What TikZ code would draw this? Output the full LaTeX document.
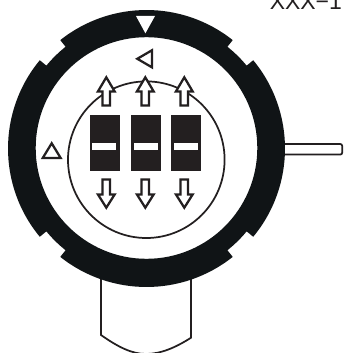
\documentclass[tikz,border=0pt]{standalone}
\usepackage{fontspec}
\usetikzlibrary{calc}
\setmainfont{Liberation Sans}
\definecolor{ringc}{HTML}{101416}
\definecolor{darkc}{HTML}{231F20}
\tikzset{
  outl/.style={draw=darkc,line width=1.7pt,fill=white,line join=miter},
  thinl/.style={draw=darkc,line width=1.3pt},
  slot/.style={fill=darkc,draw=none},
  bar/.style={fill=white,draw=none}
}
\newcommand{\uparr}[1]{\draw[outl] (#1,77.3)--(#1+8.4,91.5)--(#1+3.7,91.5)--(#1+3.7,105.5)--(#1-3.7,105.5)--(#1-3.7,91.5)--(#1-8.4,91.5)--cycle;}
\newcommand{\dnarr}[1]{\draw[outl] (#1,207.7)--(#1+8.4,194.4)--(#1+3.7,194.4)--(#1+3.7,179.5)--(#1-3.7,179.5)--(#1-3.7,194.4)--(#1-8.4,194.4)--cycle;}
\begin{document}
\begin{tikzpicture}[x=0.75pt,y=-0.75pt]
\useasboundingbox (0,0) rectangle (343,353);
\clip (0,0) rectangle (343,353);
\fill[white] (0,0) rectangle (343,353);
% bottom tab
\draw[thinl] (101,275)--(101,335) .. controls (118,347) and (132,354) .. (146,354) .. controls (160,354) and (175,348) .. (191,337.7)--(191,275);
% right stem
\draw[thinl,fill=white,rounded corners=1.5pt] (280,144)--(342.2,144)--(342.2,154.6)--(280,154.6);
% ring
\fill[ringc,even odd rule]
  ($(146.5,148.5)+(-39.6:138.5)$) arc[start angle=-39.6,end angle=39.6,radius=138.5]
  -- ($(146.5,148.5)+(39.6:130)$) arc[start angle=39.6,end angle=51.5,radius=130]
  -- ($(146.5,148.5)+(51.5:138.5)$) arc[start angle=51.5,end angle=128.5,radius=138.5]
  -- ($(146.5,148.5)+(128.5:130)$) arc[start angle=128.5,end angle=140.4,radius=130]
  -- ($(146.5,148.5)+(140.4:138.5)$) arc[start angle=140.4,end angle=219.6,radius=138.5]
  -- ($(146.5,148.5)+(219.6:130)$) arc[start angle=219.6,end angle=231.5,radius=130]
  -- ($(146.5,148.5)+(231.5:138.5)$) arc[start angle=231.5,end angle=308.5,radius=138.5]
  -- ($(146.5,148.5)+(308.5:130)$) arc[start angle=308.5,end angle=320.4,radius=130]
  -- cycle
  (146.5,148) circle[radius=110.8];
\node[inner sep=0pt,anchor=base west,font=\fontsize{17.2}{20}\selectfont,text=darkc] (lbl) at (269.5,10) {XXX−1};
% inner circle
\draw[thinl] (146.3,159.7) circle[radius=78.3];
% slots
\fill[slot] (90,115) rectangle (120,171);
\fill[slot] (131,115) rectangle (161,171);
\fill[slot] (171,115) rectangle (201,171);
\fill[bar] (91.7,142.7) rectangle (116,150);
\fill[bar] (134,142.7) rectangle (158,150);
\fill[bar] (174,142.7) rectangle (198,150);
% arrows
\uparr{106.3}\uparr{145.3}\uparr{184.3}
\dnarr{106.3}\dnarr{145.3}\dnarr{184.3}
% triangles
\fill[white] (136,16)--(155,16)--(145.4,33.3)--cycle;
\draw[outl] (137.3,58.8)--(151.9,50.3)--(151.9,67.3)--cycle;
\draw[outl] (51.7,143.3)--(60.6,157.9)--(42.8,157.9)--cycle;
\end{tikzpicture}
\end{document}
